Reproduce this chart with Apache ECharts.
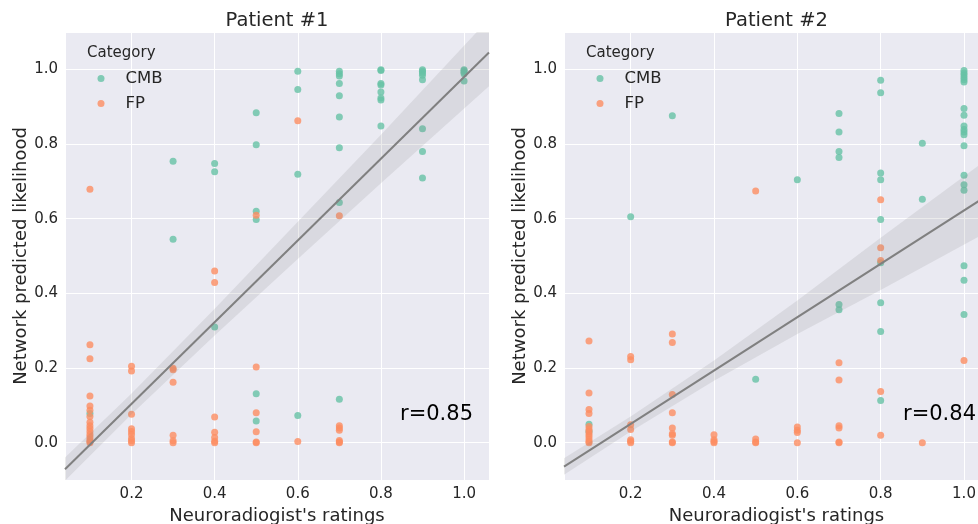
<!DOCTYPE html>
<html>
<head>
<meta charset="utf-8">
<script src="https://cdn.jsdelivr.net/npm/echarts@6/dist/echarts.min.js"></script>
<style>html,body{margin:0;padding:0;background:#fff;}#c{width:978px;height:524px;}</style>
</head>
<body>
<div id="c"></div>
<script>
// ---- data ----
const titles = ['Patient #1', 'Patient #2'];
const rLabels = ['r=0.85', 'r=0.84'];
const categories = ['CMB', 'FP'];
const xTicks = [0.2, 0.4, 0.6, 0.8, 1.0];
const yTicks = [0.0, 0.2, 0.4, 0.6, 0.8, 1.0];

const p1Cmb = [
  [0.1,0.078],
  [0.3,0.754],[0.3,0.545],
  [0.4,0.748],[0.4,0.726],[0.4,0.31],
  [0.5,0.884],[0.5,0.798],[0.5,0.62],[0.5,0.598],[0.5,0.131],[0.5,0.058],
  [0.6,0.995],[0.6,0.946],[0.6,0.719],[0.6,0.073],
  [0.7,0.995],[0.7,0.988],[0.7,0.982],[0.7,0.962],[0.7,0.929],[0.7,0.872],[0.7,0.79],[0.7,0.643],[0.7,0.116],
  [0.8,0.999],[0.8,0.997],[0.8,0.962],[0.8,0.958],[0.8,0.939],[0.8,0.923],[0.8,0.918],[0.8,0.848],
  [0.9,0.999],[0.9,0.995],[0.9,0.99],[0.9,0.984],[0.9,0.972],[0.9,0.841],[0.9,0.78],[0.9,0.709],
  [1.0,0.999],[1.0,0.996],[1.0,0.992],[1.0,0.988],[1.0,0.969]
];
const p1Fp = [
  [0.1,0.679],[0.1,0.262],[0.1,0.225],[0.1,0.125],[0.1,0.098],[0.1,0.087],[0.1,0.07],[0.1,0.055],
  [0.1,0.045],[0.1,0.038],[0.1,0.03],[0.1,0.022],[0.1,0.015],[0.1,0.008],[0.1,0.003],[0.1,0.0],
  [0.2,0.205],[0.2,0.192],[0.2,0.076],[0.2,0.037],[0.2,0.03],[0.2,0.022],[0.2,0.011],[0.2,0.005],[0.2,0.0],
  [0.3,0.199],[0.3,0.195],[0.3,0.162],[0.3,0.02],[0.3,0.005],[0.3,0.0],
  [0.4,0.46],[0.4,0.429],[0.4,0.069],[0.4,0.028],[0.4,0.014],[0.4,0.004],[0.4,0.0],
  [0.5,0.609],[0.5,0.203],[0.5,0.08],[0.5,0.029],[0.5,0.002],[0.5,0.0],
  [0.6,0.862],[0.6,0.003],
  [0.7,0.608],[0.7,0.045],[0.7,0.039],[0.7,0.033],[0.7,0.006],[0.7,0.002],[0.7,0.0]
];
const p2Cmb = [
  [0.1,0.049],[0.1,0.03],
  [0.2,0.605],
  [0.3,0.876],
  [0.5,0.17],
  [0.6,0.704],
  [0.7,0.882],[0.7,0.832],[0.7,0.78],[0.7,0.764],[0.7,0.37],[0.7,0.356],
  [0.8,0.971],[0.8,0.937],[0.8,0.722],[0.8,0.704],[0.8,0.598],[0.8,0.482],[0.8,0.375],[0.8,0.298],[0.8,0.113],
  [0.9,0.802],[0.9,0.652],
  [1.0,0.997],[1.0,0.99],[1.0,0.985],[1.0,0.978],[1.0,0.972],[1.0,0.966],[1.0,0.895],[1.0,0.877],
  [1.0,0.848],[1.0,0.839],[1.0,0.832],[1.0,0.825],[1.0,0.795],[1.0,0.716],[1.0,0.691],[1.0,0.676],
  [1.0,0.474],[1.0,0.435],[1.0,0.343]
];
const p2Fp = [
  [0.1,0.272],[0.1,0.133],[0.1,0.089],[0.1,0.078],[0.1,0.043],[0.1,0.036],[0.1,0.03],[0.1,0.023],
  [0.1,0.017],[0.1,0.01],[0.1,0.003],[0.1,0.0],
  [0.2,0.231],[0.2,0.222],[0.2,0.048],[0.2,0.035],[0.2,0.008],[0.2,0.004],[0.2,0.0],
  [0.3,0.291],[0.3,0.268],[0.3,0.129],[0.3,0.08],[0.3,0.039],[0.3,0.024],[0.3,0.02],[0.3,0.002],[0.3,0.0],
  [0.4,0.021],[0.4,0.008],[0.4,0.003],[0.4,0.0],
  [0.5,0.674],[0.5,0.01],[0.5,0.002],[0.5,0.0],
  [0.6,0.042],[0.6,0.033],[0.6,0.027],[0.6,0.0],
  [0.7,0.214],[0.7,0.168],[0.7,0.045],[0.7,0.039],[0.7,0.002],[0.7,0.0],
  [0.8,0.651],[0.8,0.522],[0.8,0.488],[0.8,0.137],[0.8,0.02],
  [0.9,0.0],
  [1.0,0.22]
];
// regression fit line ends and confidence band
const fitX = [0.04, 1.06];
const p1FitY = [-0.071, 1.045];
const p2FitY = [-0.064, 0.665];
const bandX = [0.04, 0.2, 0.4, 0.6, 0.8, 1.06];
const p1BandLo = [-0.102, 0.076, 0.287, 0.492, 0.695, 0.955];
const p1BandHi = [-0.040, 0.132, 0.359, 0.592, 0.825, 1.135];
const p2BandLo = [-0.086, 0.030, 0.166, 0.291, 0.409, 0.567];
const p2BandHi = [-0.042, 0.070, 0.220, 0.381, 0.549, 0.763];

// ---- chart ----
const FONT = 'DejaVu Sans';
const TXT = '#262626';
const COLORS = {CMB: '#66c2a5', FP: '#fc8d62'};
const grids = [
  {left: 65, top: 32, width: 424, height: 448},
  {left: 564, top: 32, width: 425, height: 448}
];
const chart = echarts.init(document.getElementById('c'), null, {renderer: 'canvas'});

function onTick(v, ticks) {
  return ticks.some(t => Math.abs(t - v) < 1e-6);
}
function xAxis(i) {
  return {
    gridIndex: i, type: 'value', min: 0.04, max: 1.06, splitNumber: 5,
    name: "Neuroradiogist's ratings", nameLocation: 'middle', nameGap: 22,
    nameTextStyle: {fontFamily: FONT, fontSize: 18, color: TXT},
    axisLine: {show: false}, axisTick: {show: false},
    axisLabel: {fontFamily: FONT, fontSize: 15, color: TXT, margin: 7,
      showMinLabel: false, showMaxLabel: false,
      formatter: v => onTick(v, xTicks) ? v.toFixed(1) : ''},
    splitLine: {show: true, lineStyle: {color: '#ffffff', width: 1}}
  };
}
function yAxis(i) {
  return {
    gridIndex: i, type: 'value', min: -0.1, max: 1.1, splitNumber: 6,
    name: 'Network predicted likelihood', nameLocation: 'middle', nameGap: 35,
    nameTextStyle: {fontFamily: FONT, fontSize: 18, color: TXT},
    axisLine: {show: false}, axisTick: {show: false},
    axisLabel: {fontFamily: FONT, fontSize: 15, color: TXT, margin: 7,
      showMinLabel: false, showMaxLabel: false,
      formatter: v => onTick(v, yTicks) ? v.toFixed(1) : ''},
    splitLine: {show: true, lineStyle: {color: '#ffffff', width: 1}}
  };
}
function scatter(name, data, i) {
  return {
    name: name, type: 'scatter', xAxisIndex: i, yAxisIndex: i, data: data,
    symbol: 'circle', symbolSize: 7, z: name === 'FP' ? 3 : 2,
    itemStyle: {color: COLORS[name], opacity: 0.8}, clip: true
  };
}
function band(lo, hi, i) {
  return {
    type: 'custom', xAxisIndex: i, yAxisIndex: i, z: 4, clip: true, silent: true,
    data: [bandX[0]],
    renderItem: function (params, api) {
      const pts = [];
      for (let k = 0; k < bandX.length; k++) pts.push(api.coord([bandX[k], lo[k]]));
      for (let k = bandX.length - 1; k >= 0; k--) pts.push(api.coord([bandX[k], hi[k]]));
      return {type: 'polygon', shape: {points: pts},
        style: {fill: 'rgba(128,128,128,0.16)', stroke: null}};
    }
  };
}
function fit(ys, i) {
  return {
    type: 'line', xAxisIndex: i, yAxisIndex: i, z: 5, clip: true, silent: true,
    data: fitX.map((x, k) => [x, ys[k]]), symbol: 'none',
    lineStyle: {color: '#808080', width: 2}
  };
}
function legend(i) {
  return {
    orient: 'vertical', left: grids[i].left + 27.5, top: 64,
    data: categories, icon: 'circle', itemWidth: 7, itemHeight: 7, itemGap: 6,
    selectedMode: false,
    textStyle: {fontFamily: FONT, fontSize: 16.5, color: TXT, lineHeight: 19,
      padding: [0, 0, 0, 16]}
  };
}

chart.setOption({
  backgroundColor: '#ffffff',
  animation: false,
  title: titles.map((t, i) => ({
    text: t, left: grids[i].left + grids[i].width / 2, top: 11, textAlign: 'center', padding: 0,
    textStyle: {fontFamily: FONT, fontSize: 19.5, fontWeight: 'normal', color: TXT}
  })),
  legend: [legend(0), legend(1)],
  grid: grids.map(g => Object.assign({show: true, backgroundColor: '#EAEAF2', borderWidth: 0,
    containLabel: false, outerBoundsMode: 'none'}, g)),
  xAxis: [xAxis(0), xAxis(1)],
  yAxis: [yAxis(0), yAxis(1)],
  graphic: [
    {type: 'text', left: grids[0].left + 22, top: 46, z: 10,
      style: {text: 'Category', font: '15px "' + FONT + '"', fill: TXT}},
    {type: 'text', left: grids[1].left + 22, top: 46, z: 10,
      style: {text: 'Category', font: '15px "' + FONT + '"', fill: TXT}},
    {type: 'text', left: 400, top: 404, z: 10,
      style: {text: rLabels[0], font: '21px "' + FONT + '"', fill: '#000000'}},
    {type: 'text', left: 903, top: 404, z: 10,
      style: {text: rLabels[1], font: '21px "' + FONT + '"', fill: '#000000'}}
  ],
  series: [
    scatter('CMB', p1Cmb, 0), scatter('FP', p1Fp, 0), band(p1BandLo, p1BandHi, 0), fit(p1FitY, 0),
    scatter('CMB', p2Cmb, 1), scatter('FP', p2Fp, 1), band(p2BandLo, p2BandHi, 1), fit(p2FitY, 1)
  ]
});
</script>
</body>
</html>
